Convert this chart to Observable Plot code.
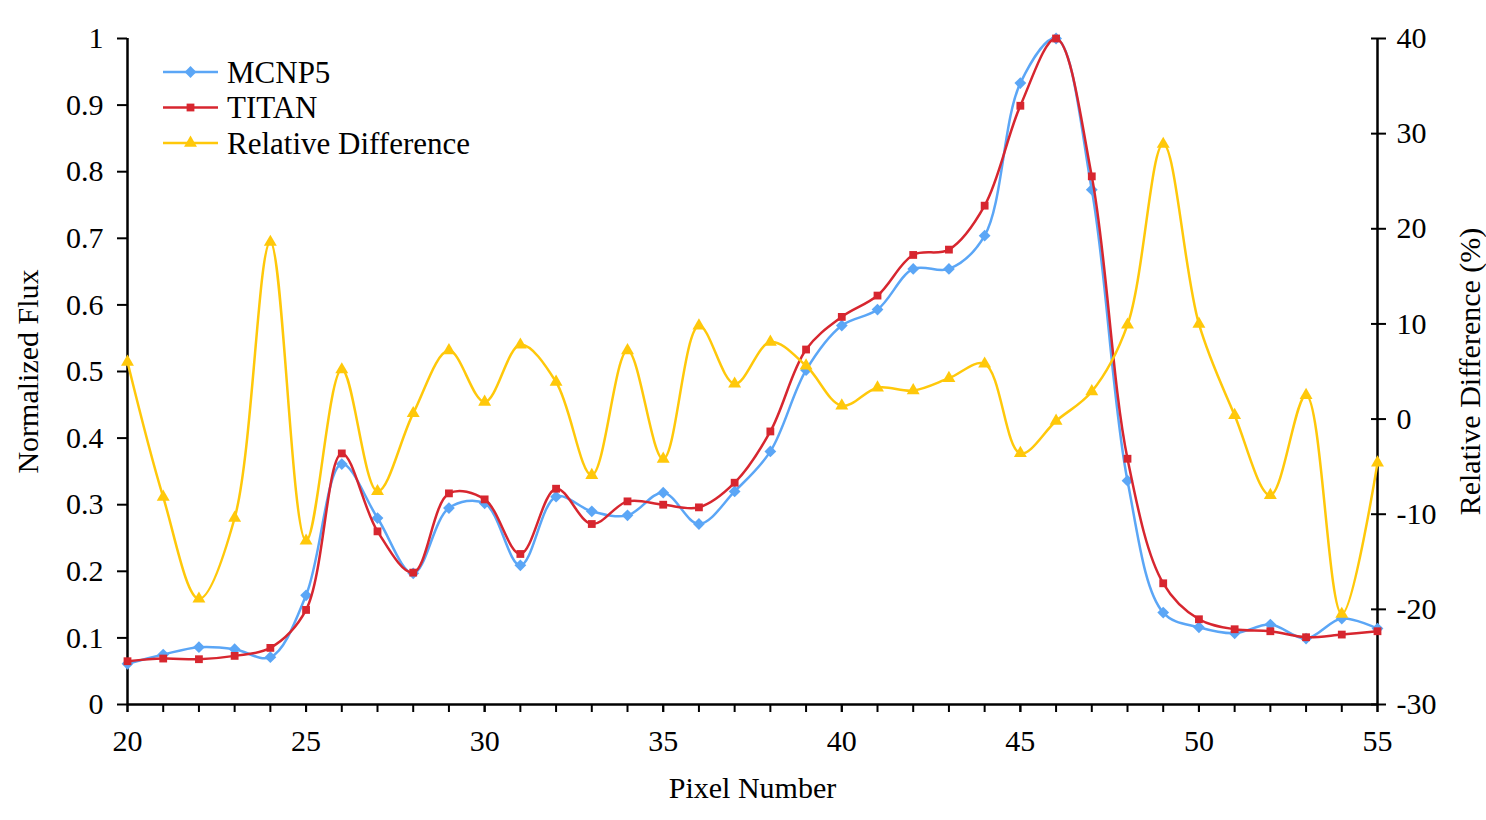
<!DOCTYPE html>
<html><head><meta charset="utf-8">
<script src="https://cdn.jsdelivr.net/npm/d3@7"></script>
<script src="https://cdn.jsdelivr.net/npm/@observablehq/plot@0.6"></script>
<style>
html,body{margin:0;padding:0;background:#fff;}
#wrap{position:relative;width:1486px;height:820px;overflow:hidden;background:#fff;}
#wrap svg.legend{position:absolute;left:0;top:0;}
</style></head><body><div id="wrap"></div>
<script>
// ---- data ----
const pixels = [20,21,22,23,24,25,26,27,28,29,30,31,32,33,34,35,36,37,38,39,40,41,42,43,44,45,46,47,48,49,50,51,52,53,54,55];
const mcnp5 = [0.061,0.075,0.086,0.083,0.071,0.164,0.361,0.280,0.197,0.295,0.302,0.209,0.312,0.290,0.284,0.318,0.271,0.320,0.380,0.502,0.569,0.593,0.654,0.654,0.704,0.933,1.000,0.773,0.336,0.138,0.116,0.107,0.120,0.099,0.129,0.114];
const titan = [0.065,0.069,0.068,0.073,0.085,0.142,0.377,0.260,0.198,0.317,0.308,0.226,0.324,0.271,0.305,0.300,0.296,0.333,0.410,0.533,0.582,0.614,0.675,0.683,0.749,0.899,1.000,0.793,0.369,0.182,0.128,0.113,0.110,0.101,0.105,0.110];
const relDiff = [6.0,-8.2,-18.9,-10.4,18.6,-12.8,5.2,-7.6,0.6,7.2,1.8,7.8,3.9,-5.9,7.2,-4.2,9.8,3.7,8.1,5.6,1.4,3.3,3.0,4.3,5.8,-3.6,-0.2,2.9,9.9,28.9,10.0,0.4,-8.0,2.5,-20.5,-4.6];
const leftTicks = [0,0.1,0.2,0.3,0.4,0.5,0.6,0.7,0.8,0.9,1];
const rightTicks = [-30,-20,-10,0,10,20,30,40];
const xMinorTicks = [20,21,22,23,24,25,26,27,28,29,30,31,32,33,34,35,36,37,38,39,40,41,42,43,44,45,46,47,48,49,50,51,52,53,54,55];
const xMajorTicks = [20,25,30,35,40,45,50,55];
const seriesNames = ["MCNP5","TITAN","Relative Difference"];
const seriesColors = ["#5ba6f6","#d7262f","#ffc80a"];
const xLabel = "Pixel Number";
const yLeftLabel = "Normalized Flux";
const yRightLabel = "Relative Difference (%)";

// ---- build ----
const rMin = -30, rMax = 40;
const toLeft = v => (v - rMin) / (rMax - rMin);
const fromLeft = p => Math.round(p * (rMax - rMin) + rMin);
const rows = pixels.map((p, i) => ({pixel: p, mcnp5: mcnp5[i], titan: titan[i], rel: toLeft(relDiff[i])}));
const font = "'Liberation Serif','Times New Roman',serif";

// square rotated 45° (Excel-style diamond marker)
const squareDiamond = {
  draw(ctx, size) {
    const r = Math.sqrt(size / 2);
    ctx.moveTo(0, -r); ctx.lineTo(r, 0); ctx.lineTo(0, r); ctx.lineTo(-r, 0); ctx.closePath();
  }
};
const seriesSymbols = [squareDiamond, d3.symbolSquare, d3.symbolTriangle];
const symSizes = [4.7, 4.4, 4.8];

const chart = Plot.plot({
  width: 1486, height: 820,
  marginLeft: 127, marginRight: 109, marginTop: 38, marginBottom: 116,
  style: {fontFamily: font, fontSize: "30px", background: "transparent", color: "#000"},
  x: {domain: [20, 55]},
  y: {domain: [0, 1]},
  marks: [
    Plot.axisY(leftTicks, {anchor: "left", tickSize: 10, tickPadding: 14, strokeWidth: 2, tickFormat: d3.format("~g"), label: null}),
    Plot.axisY(rightTicks.map(toLeft), {anchor: "right", tickSize: 15, dx: -7, strokeWidth: 2, tickFormat: () => "", label: null}),
    Plot.axisY(rightTicks.map(toLeft), {anchor: "right", tickSize: 0, tickPadding: 19, tickFormat: fromLeft, label: null}),
    Plot.axisX(xMinorTicks, {anchor: "bottom", tickSize: 8, strokeWidth: 2, tickFormat: () => "", label: null}),
    Plot.axisX(xMajorTicks, {anchor: "bottom", tickSize: 8, tickPadding: 17, strokeWidth: 2, label: null}),
    Plot.ruleX([20, 55], {stroke: "#000", strokeWidth: 2.5}),
    Plot.ruleY([0], {stroke: "#000", strokeWidth: 2.5}),
    Plot.text([xLabel], {text: d => d, frameAnchor: "bottom", dy: 93, fontSize: 30}),
    Plot.text([yLeftLabel], {text: d => d, frameAnchor: "left", textAnchor: "middle", dx: -99, rotate: -90, fontSize: 30}),
    Plot.text([yRightLabel], {text: d => d, frameAnchor: "right", textAnchor: "middle", dx: 93, rotate: -90, fontSize: 30}),
    Plot.line(rows, {x: "pixel", y: "mcnp5", stroke: seriesColors[0], strokeWidth: 2.5, curve: "catmull-rom"}),
    Plot.dot(rows, {x: "pixel", y: "mcnp5", symbol: seriesSymbols[0], fill: seriesColors[0], r: symSizes[0]}),
    Plot.line(rows, {x: "pixel", y: "titan", stroke: seriesColors[1], strokeWidth: 2.5, curve: "catmull-rom"}),
    Plot.dot(rows, {x: "pixel", y: "titan", symbol: seriesSymbols[1], fill: seriesColors[1], r: symSizes[1]}),
    Plot.line(rows, {x: "pixel", y: "rel", stroke: seriesColors[2], strokeWidth: 2.5, curve: "catmull-rom"}),
    Plot.dot(rows, {x: "pixel", y: "rel", symbol: seriesSymbols[2], fill: seriesColors[2], r: symSizes[2]})
  ]
});
const wrap = document.getElementById("wrap");
wrap.appendChild(chart);

// ---- legend (overlay inside plot area) ----
const lg = d3.select(wrap).append("svg").attr("class", "legend")
  .attr("width", 1486).attr("height", 820)
  .style("font-family", font).style("font-size", "31px");
seriesNames.forEach((name, i) => {
  const g = lg.append("g").attr("transform", `translate(163,${72 + i * 35.5})`);
  g.append("line").attr("x1", 0).attr("x2", 55).attr("y1", 0).attr("y2", 0)
    .attr("stroke", seriesColors[i]).attr("stroke-width", 2.5);
  g.append("path").attr("transform", "translate(27.5,0)")
    .attr("d", d3.symbol(seriesSymbols[i], Math.PI * symSizes[i] * symSizes[i])())
    .attr("fill", seriesColors[i]);
  g.append("text").attr("x", 64).attr("y", 0).attr("dy", "0.35em").attr("fill", "#000").text(name);
});
</script></body></html>
